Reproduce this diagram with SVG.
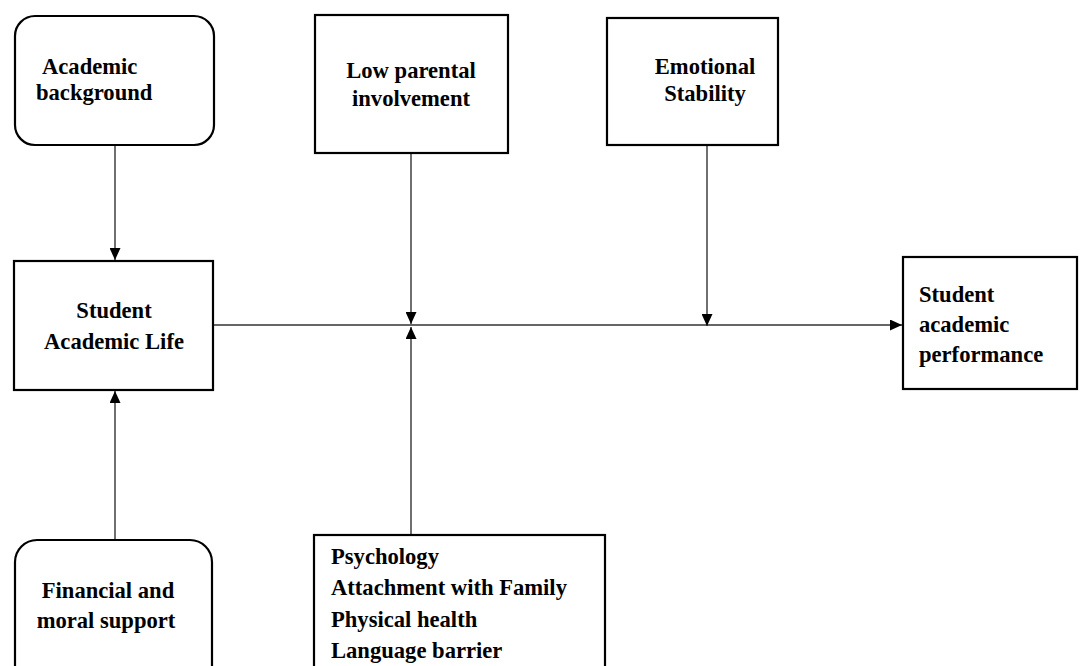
<svg xmlns="http://www.w3.org/2000/svg" width="1090" height="666" viewBox="0 0 1090 666">
<style>
.box{fill:#fff;stroke:#000;stroke-width:2.2}
.t{font-family:"Liberation Serif","Times New Roman",serif;font-weight:bold;font-size:22.6px;fill:#000}
.c{text-anchor:middle}
.ln{stroke:#333;stroke-width:1.4;fill:none}
</style>
<defs>
<marker id="ah" viewBox="0 0 12 11" refX="12" refY="5.5" markerWidth="12" markerHeight="11" markerUnits="userSpaceOnUse" orient="auto">
<path d="M0,0 L12,5.5 L0,11 Z" fill="#000"/>
</marker>
</defs>
<rect width="1090" height="666" fill="#fff"/>
<g id="connectors">
<line class="ln" x1="115" y1="146" x2="115" y2="260" marker-end="url(#ah)"/>
<line class="ln" x1="115" y1="540" x2="115" y2="391" marker-end="url(#ah)"/>
<line class="ln" x1="214" y1="325" x2="902" y2="325" marker-end="url(#ah)"/>
<line class="ln" x1="411" y1="154" x2="411" y2="324" marker-end="url(#ah)"/>
<line class="ln" x1="411" y1="535" x2="411" y2="327" marker-end="url(#ah)"/>
<line class="ln" x1="707" y1="146" x2="707" y2="326" marker-end="url(#ah)"/>
</g>
<g id="academic-background">
<rect class="box" x="15" y="16" width="199" height="129" rx="20"/>
<text class="t" x="42" y="74">Academic</text>
<text class="t" x="36" y="100">background</text>
</g>
<g id="low-parental">
<rect class="box" x="315" y="15" width="193" height="138"/>
<text class="t c" x="411" y="78">Low parental</text>
<text class="t c" x="411" y="106">involvement</text>
</g>
<g id="emotional-stability">
<rect class="box" x="607" y="18" width="171" height="127"/>
<text class="t c" x="705" y="74">Emotional</text>
<text class="t c" x="705" y="101">Stability</text>
</g>
<g id="student-academic-life">
<rect class="box" x="14" y="261" width="199" height="129"/>
<text class="t c" x="114" y="318">Student</text>
<text class="t c" x="114" y="349">Academic Life</text>
</g>
<g id="student-performance">
<rect class="box" x="903" y="257" width="174" height="132"/>
<text class="t" x="919" y="302">Student</text>
<text class="t" x="919" y="332">academic</text>
<text class="t" x="919" y="362">performance</text>
</g>
<g id="financial-support">
<rect class="box" x="15" y="540" width="197" height="160" rx="22"/>
<text class="t c" x="108" y="598">Financial and</text>
<text class="t c" x="106" y="628">moral support</text>
</g>
<g id="factors">
<rect class="box" x="314" y="535" width="291" height="160"/>
<text class="t" x="331" y="564">Psychology</text>
<text class="t" x="331" y="595">Attachment with Family</text>
<text class="t" x="331" y="627">Physical health</text>
<text class="t" x="331" y="658">Language barrier</text>
</g>
</svg>
